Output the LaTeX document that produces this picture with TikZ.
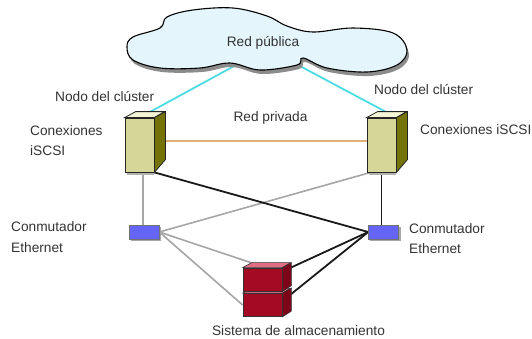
\documentclass[tikz,border=0pt]{standalone}
\usepackage{fontspec}
\setmainfont{Liberation Sans}
\definecolor{srvfront}{RGB}{214,214,150}
\definecolor{srvtop}{RGB}{245,245,215}
\definecolor{srvside}{RGB}{115,115,10}
\definecolor{stfront}{RGB}{165,10,35}
\definecolor{sttop}{RGB}{225,110,130}
\definecolor{stside}{RGB}{125,5,25}
\definecolor{swfill}{RGB}{100,100,245}
\definecolor{cyanln}{RGB}{75,220,225}
\definecolor{orangeln}{RGB}{225,175,120}
\definecolor{cloudfill}{RGB}{228,245,252}
\begin{document}
\begin{tikzpicture}[x=1pt,y=-1pt,
  lbl/.style={font=\fontsize{13.7}{20.5}\selectfont,text=black!80,inner sep=0pt,align=left},
  lblc/.style={lbl,align=center},
  cyanline/.style={draw=cyanln,line width=1.8pt},
  orangeline/.style={draw=orangeln,line width=1.8pt},
  greyline/.style={draw=black!35,line width=1.6pt},
  blackline/.style={draw=black!90,line width=1.8pt},
  serverfront/.style={draw=black!85,fill=srvfront,line width=0.8pt,minimum width=29pt,minimum height=54pt,inner sep=0pt},
  switchbox/.style={draw=black!55,fill=swfill,line width=0.6pt,minimum width=30pt,minimum height=14pt,inner sep=0pt},
  storefront/.style={draw=black!80,fill=stfront,line width=0.7pt,minimum width=39pt,minimum height=23pt,inner sep=0pt},
]
\useasboundingbox (0,0) rectangle (532,338);
% connection points
\coordinate (cloudL) at (236,65);
\coordinate (cloudR) at (298,65);
\node[serverfront] (srvL) at (139.5,145) {};
\node[serverfront] (srvR) at (381.5,145) {};
\node[switchbox] (swL) at (144,232) {};
\node[switchbox] (swR) at (383.5,232) {};
\node[storefront] (stA) at (262.5,279.5) {};
\node[storefront] (stB) at (262.5,305) {};
\coordinate (srvLtop) at (148,113);
\coordinate (srvRtop) at (388,113);
\coordinate (srvLgrey) at (143,172);
\coordinate (swLgrey) at (143,225);
\coordinate (srvRin) at (372,172);
\coordinate (orL) at (165,141);
\coordinate (orR) at (367,141);
\coordinate (stAtop) at (252,263);
\coordinate (stAside) at (290,268);
\coordinate (stBside) at (290,295);
% connectors
\draw[cyanline] (cloudL) -- (srvLtop);
\draw[cyanline] (cloudR) -- (srvRtop);
\draw[orangeline] (orL) -- (orR);
\draw[greyline] (srvLgrey) -- (swLgrey);
\draw[greyline] (srvRin) -- (swL.east);
\draw[greyline] (swL.east) -- (stAtop);
\draw[greyline] (swL.east) -- (stB.west);
\draw[blackline] (srvL.south east) -- (swR.west);
\draw[blackline] (srvR.south) -- (swR.north -| srvR.south);
\draw[blackline] (swR.west) -- (stAside);
\draw[blackline] (swR.west) -- (stBside);
% cloud
\def\cloudpts{(127,47)(133,37)(160,28)(167,17)(193,10)(233,8)(267,16)(287,26)(313,32)(353,28)(393,33)(407,50)(397,65)(367,72)(327,68)(303,58)(297,65)(260,70)(230,63)(200,68)(160,68)(133,60)}
\fill[black!45,shift={(2,4)}] plot[smooth cycle,tension=0.6] coordinates {\cloudpts};
\draw[black,fill=cloudfill,line width=1.1pt] plot[smooth cycle,tension=0.6] coordinates {\cloudpts};
% servers
\foreach \n in {srvL,srvR}{
  \fill[black!30] ([xshift=2pt]\n.south west) rectangle ([yshift=-3pt]\n.south east);
  \draw[black!85,fill=srvtop,line width=0.8pt] (\n.north west) -- ++(11,-6) -- ++(29,0) -- (\n.north east) -- cycle;
  \draw[black!85,fill=srvside,line width=0.8pt] (\n.north east) -- ++(11,-6) -- ++(0,48) -- (\n.south east) -- cycle;
  \node[serverfront] at (\n) {};
}
% storage
\foreach \n in {stB,stA}{
  \draw[black!80,fill=sttop,line width=0.6pt] (\n.north west) -- ++(9,-5) -- ++(39,0) -- (\n.north east) -- cycle;
  \draw[black!80,fill=stside,line width=0.6pt] (\n.north east) -- ++(9,-5) -- ++(0,23) -- (\n.south east) -- cycle;
  \node[storefront] at (\n) {};
}
% switches with shadow
\foreach \n in {swL,swR}{
  \fill[black!35] ([shift={(2pt,-2pt)}]\n.south west) rectangle ([shift={(2pt,-2pt)}]\n.north east);
  \node[switchbox] at (\n) {};
}
% labels
\node[lblc] (tPub) at (263,43) {Red pública};
\node[lbl,anchor=west] (tN1) at (55,97) {Nodo del clúster};
\node[lbl,anchor=west] (tN2) at (374,90) {Nodo del clúster};
\node[lblc] (tPriv) at (270.5,118) {Red privada};
\node[lbl,anchor=west] (tC1) at (30,140.5) {Conexiones\\iSCSI};
\node[lbl,anchor=west] (tC2) at (420,130) {Conexiones iSCSI};
\node[lbl,anchor=west] (tS1) at (11,237) {Conmutador\\Ethernet};
\node[lbl,anchor=west] (tS2) at (409,238.5) {Conmutador\\Ethernet};
\node[lblc] (tSt) at (298.5,330.5) {Sistema de almacenamiento};
\end{tikzpicture}
\end{document}
